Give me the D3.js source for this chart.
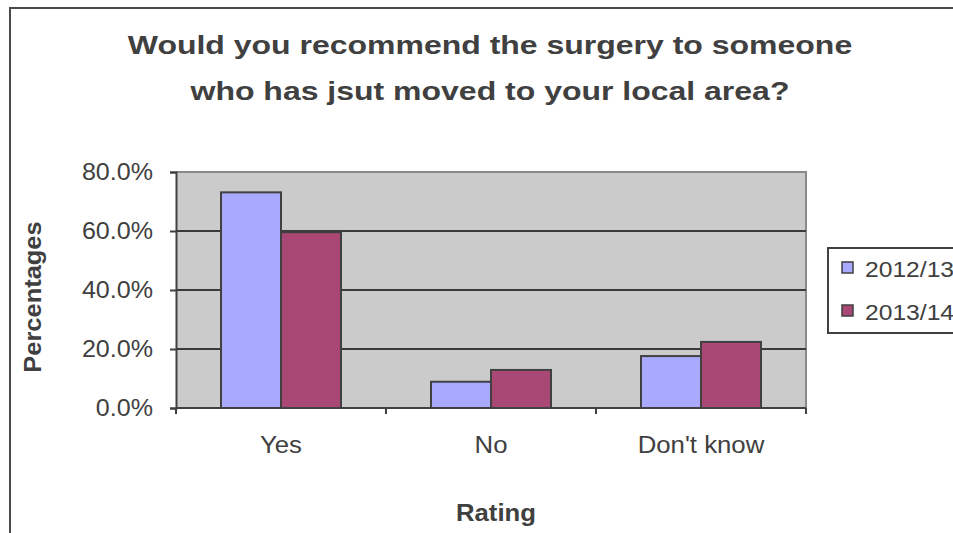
<!DOCTYPE html>
<html>
<head>
<meta charset="utf-8">
<script src="https://cdn.jsdelivr.net/npm/d3@7/dist/d3.min.js"></script>
<style>
  html, body { margin: 0; padding: 0; background: #ffffff; overflow: hidden; }
  svg { display: block; font-family: "Liberation Sans", Arial, sans-serif; }
</style>
</head>
<body>
<svg id="chart" width="953" height="533"></svg>
<script>
// Survey answers by year
const categories = ["Yes", "No", "Don't know"];
const seriesNames = ["2012/13", "2013/14"];
const values2012 = [73.1, 8.9, 17.6];
const values2013 = [59.6, 12.9, 22.4];
const yTicks = [0, 20, 40, 60, 80];
const titleLines = ["Would you recommend the surgery to someone", "who has jsut moved to your local area?"];
const yTitle = "Percentages";
const xTitle = "Rating";

const seriesValues = [values2012, values2013];
const colors = ["#a9a9ff", "#a94874"];

const svg = d3.select("#chart");
const W = 953, H = 533;
const plot = { left: 176, top: 172, right: 806, bottom: 408 };

// Widen text horizontally by a factor, keeping glyph height
function stretch(sel, k) {
  sel.each(function () {
    const w = this.getComputedTextLength();
    d3.select(this).attr("textLength", w * k).attr("lengthAdjust", "spacingAndGlyphs");
  });
}

// Outer chart frame
svg.append("rect")
  .attr("x", 10).attr("y", 8)
  .attr("width", W + 20).attr("height", H + 20)
  .attr("fill", "#ffffff").attr("stroke", "#4a4a4a").attr("stroke-width", 2);

// Title
const title = svg.append("g");
title.selectAll("text").data(titleLines).join("text")
  .attr("x", 490).attr("y", (d, i) => 54 + i * 46)
  .attr("text-anchor", "middle")
  .attr("font-size", 26).attr("font-weight", "bold").attr("fill", "#404040")
  .text(d => d)
  .call(stretch, 1.23);

const x0 = d3.scaleBand().domain(categories).range([plot.left, plot.right]).paddingInner(0).paddingOuter(0);
const groupW = x0.bandwidth() * (2 / 3.5);
const x1 = d3.scaleBand().domain(seriesNames).range([0, groupW]);
const y = d3.scaleLinear().domain([0, 80]).range([plot.bottom, plot.top]);

// Plot background
svg.append("rect")
  .attr("x", plot.left).attr("y", plot.top)
  .attr("width", plot.right - plot.left).attr("height", plot.bottom - plot.top)
  .attr("fill", "#cbcbcb");

// Top and right edges of the plot area
svg.append("path")
  .attr("d", `M${plot.left},${plot.top}H${plot.right}V${plot.bottom}`)
  .attr("fill", "none").attr("stroke", "#8a8a8a").attr("stroke-width", 2);

// Gridlines
svg.append("g").selectAll("line").data(yTicks.filter(t => t > 0 && t < 80)).join("line")
  .attr("x1", plot.left).attr("x2", plot.right)
  .attr("y1", d => Math.round(y(d))).attr("y2", d => Math.round(y(d)))
  .attr("stroke", "#3a3a3a").attr("stroke-width", 2);

// Bars
const groups = svg.append("g").selectAll("g").data(categories).join("g")
  .attr("transform", d => `translate(${x0(d) + (x0.bandwidth() - groupW) / 2},0)`);
groups.selectAll("rect")
  .data((c, ci) => seriesNames.map((s, si) => ({ s, si, v: seriesValues[si][ci] })))
  .join("rect")
  .attr("x", d => x1(d.s)).attr("width", x1.bandwidth())
  .attr("y", d => y(d.v)).attr("height", d => y(0) - y(d.v))
  .attr("fill", d => colors[d.si])
  .attr("stroke", "#404040").attr("stroke-width", 2);

// Y axis
const yAxis = svg.append("g")
  .attr("transform", `translate(${plot.left},0)`)
  .call(d3.axisLeft(y).tickValues(yTicks).tickFormat(d => d.toFixed(1) + "%").tickSizeOuter(0).tickSize(6).tickPadding(17));
yAxis.select(".domain").attr("stroke", "#404040").attr("stroke-width", 2);
yAxis.selectAll(".tick line").attr("stroke", "#404040").attr("stroke-width", 2);
yAxis.selectAll(".tick text").attr("font-size", 23).attr("fill", "#404040")
  .attr("font-family", "Liberation Sans, Arial, sans-serif")
  .call(stretch, 1.09);

// X axis with ticks between categories
const xAxis = svg.append("g").attr("transform", `translate(0,${plot.bottom})`);
xAxis.append("line").attr("x1", plot.left).attr("x2", plot.right)
  .attr("stroke", "#404040").attr("stroke-width", 2);
const boundaries = categories.map(c => x0(c)).concat([plot.right]);
xAxis.selectAll("line.tk").data(boundaries).join("line").attr("class", "tk")
  .attr("x1", d => d).attr("x2", d => d).attr("y1", 0).attr("y2", 6)
  .attr("stroke", "#404040").attr("stroke-width", 2);
xAxis.selectAll("text").data(categories).join("text")
  .attr("x", d => x0(d) + x0.bandwidth() / 2).attr("y", 45)
  .attr("text-anchor", "middle").attr("font-size", 23).attr("fill", "#404040")
  .text(d => d)
  .call(stretch, 1.12);

// Axis titles
svg.append("text")
  .attr("transform", "translate(41,297) rotate(-90)")
  .attr("text-anchor", "middle").attr("font-size", 24).attr("font-weight", "bold").attr("fill", "#404040")
  .text(yTitle)
  .call(stretch, 1.06);
svg.append("text")
  .attr("x", 496).attr("y", 521)
  .attr("text-anchor", "middle").attr("font-size", 24).attr("font-weight", "bold").attr("fill", "#404040")
  .text(xTitle)
  .call(stretch, 1.07);

// Legend
const legend = svg.append("g");
legend.append("rect")
  .attr("x", 828).attr("y", 248).attr("width", 200).attr("height", 85)
  .attr("fill", "#ffffff").attr("stroke", "#404040").attr("stroke-width", 2);
const items = legend.selectAll("g.item").data(seriesNames).join("g").attr("class", "item")
  .attr("transform", (d, i) => `translate(0,${i * 43})`);
items.append("rect")
  .attr("x", 842).attr("y", 262).attr("width", 11).attr("height", 11)
  .attr("fill", (d, i) => colors[i]).attr("stroke", "#404040").attr("stroke-width", 1.5);
items.append("text")
  .attr("x", 865).attr("y", 277)
  .attr("font-size", 22).attr("fill", "#404040")
  .text(d => d)
  .call(stretch, 1.12);
</script>
</body>
</html>
